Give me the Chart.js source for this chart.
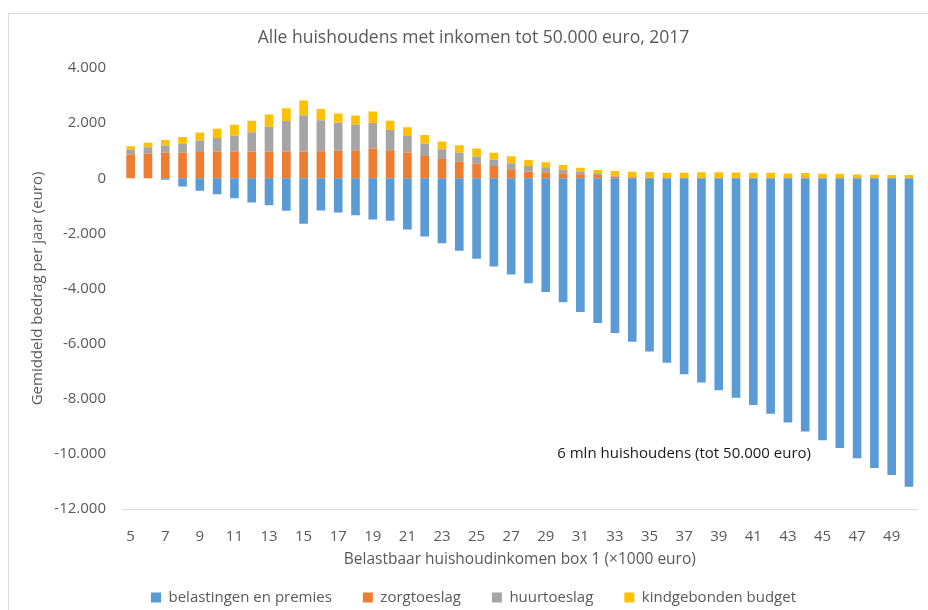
<!DOCTYPE html>
<html><head><meta charset="utf-8">
<script src="https://cdn.jsdelivr.net/npm/chart.js@4.4.0/dist/chart.umd.min.js"></script>
<style>
html,body{margin:0;padding:0;background:#fff;}
#wrap{position:relative;width:928px;height:610px;overflow:hidden;}
#frame{position:absolute;left:8px;top:13px;width:940px;height:640px;border-left:1px solid #d9d9d9;border-top:1px solid #d9d9d9;}
canvas{position:absolute;left:0;top:0;}
</style></head>
<body><div id="wrap"><div id="frame"></div><canvas id="c" width="928" height="610"></canvas></div>
<script>
const categories = ['5','6','7','8','9','10','11','12','13','14','15','16','17','18','19','20','21','22','23','24','25','26','27','28','29','30','31','32','33','34','35','36','37','38','39','40','41','42','43','44','45','46','47','48','49','50'];
const belastingen = [0,0,-50,-295,-450,-580,-725,-880,-980,-1180,-1650,-1170,-1240,-1340,-1500,-1540,-1860,-2110,-2360,-2630,-2920,-3200,-3490,-3810,-4130,-4500,-4850,-5250,-5610,-5930,-6290,-6690,-7110,-7410,-7690,-7960,-8230,-8540,-8860,-9190,-9510,-9790,-10160,-10510,-10770,-11190];
const zorgtoeslag = [864,900,924,924,948,960,960,972,972,972,972,984,996,1020,1080,1020,936,804,696,612,528,444,330,240,216,180,144,120,60,36,12,0,0,0,0,0,0,0,0,0,0,0,0,0,0,0];
const huurtoeslag = [180,228,264,336,420,504,588,696,900,1104,1308,1116,1020,924,924,732,600,444,360,312,264,228,216,204,180,132,100,60,36,12,0,0,0,0,0,0,0,0,0,0,0,0,0,0,0,0];
const kindgebonden = [120,156,204,240,288,336,396,420,444,468,540,408,336,336,420,336,312,324,276,276,288,252,250,216,180,168,140,120,168,192,216,204,204,222,222,210,198,198,174,186,162,162,138,126,114,114];
const seriesNames = ['belastingen en premies','zorgtoeslag','huurtoeslag','kindgebonden budget'];
const yTicks = [4000,2000,0,-2000,-4000,-6000,-8000,-10000,-12000];
const chartTitle = 'Alle huishoudens met inkomen tot 50.000 euro, 2017';
const xTitle = 'Belastbaar huishoudinkomen box 1 (×1000 euro)';
const yTitle = 'Gemiddeld bedrag per jaar (euro)';
const noteText = '6 mln huishoudens (tot 50.000 euro)';
const noteCategory = '37';
const noteValue = -10000;

const FONT = "'Open Sans', sans-serif";
const GREY = '#595959';
function fmt(v){
  const s = Math.abs(v).toString().replace(/\B(?=(\d{3})+(?!\d))/g,'.');
  return (v<0?'-':'') + s;
}

const notePlugin = {
  id:'note',
  afterDatasetsDraw(chart){
    const {ctx, scales} = chart;
    const x = scales.x.getPixelForValue(categories.indexOf(noteCategory));
    const y = scales.y.getPixelForValue(noteValue);
    ctx.save();
    ctx.font = "15px " + FONT;
    ctx.fillStyle = '#1a1a1a';
    ctx.textAlign = 'center';
    ctx.textBaseline = 'middle';
    ctx.fillText(noteText, x, y);
    ctx.restore();
  }
};

const colors = ['#5b9bd5','#ed7d31','#a5a5a5','#ffc000'];
const dataArrays = [belastingen, zorgtoeslag, huurtoeslag, kindgebonden];

new Chart(document.getElementById('c'), {
  type:'bar',
  data:{
    labels: categories,
    datasets: dataArrays.map((d,i)=>({
      label: seriesNames[i],
      data: d,
      backgroundColor: colors[i],
      borderWidth: 0,
      barPercentage: 0.5,
      categoryPercentage: 1.0,
      stack: 's'
    }))
  },
  options:{
    responsive:false,
    animation:false,
    devicePixelRatio:1,
    layout:{padding:{left:20,right:1,top:0,bottom:-5}},
    plugins:{
      title:{display:true,text:chartTitle,color:GREY,font:{family:FONT,size:17.5,weight:'normal'},padding:{top:28,bottom:19}},
      legend:{position:'bottom',labels:{color:GREY,font:{family:FONT,size:15},boxWidth:10,boxHeight:10,padding:31}},
      tooltip:{enabled:false}
    },
    scales:{
      x:{
        stacked:true,
        grid:{display:false,drawTicks:false},
        border:{display:true,color:'#d9d9d9',width:1},
        ticks:{autoSkip:false,maxRotation:0,minRotation:0,padding:19,color:GREY,font:{family:FONT,size:15},
          callback:(v,i)=> i%2===0 ? categories[i] : ''},
        title:{display:true,text:xTitle,color:GREY,font:{family:FONT,size:15.5},padding:{top:0,bottom:-10}},
        afterFit(s){ s.height = 50; }
      },
      y:{
        stacked:true,
        min:-12000,max:4000,
        grid:{display:false,drawTicks:false},
        border:{display:false},
        afterBuildTicks(s){ s.ticks = yTicks.map(v=>({value:v})); },
        ticks:{padding:16,color:GREY,font:{family:FONT,size:15},callback:(v)=>fmt(v)},
        title:{display:true,text:yTitle,color:GREY,font:{family:FONT,size:15},padding:{top:9,bottom:0}},
        afterFit(s){ s.width = 102; }
      }
    }
  },
  plugins:[notePlugin]
});
</script>
</body></html>
